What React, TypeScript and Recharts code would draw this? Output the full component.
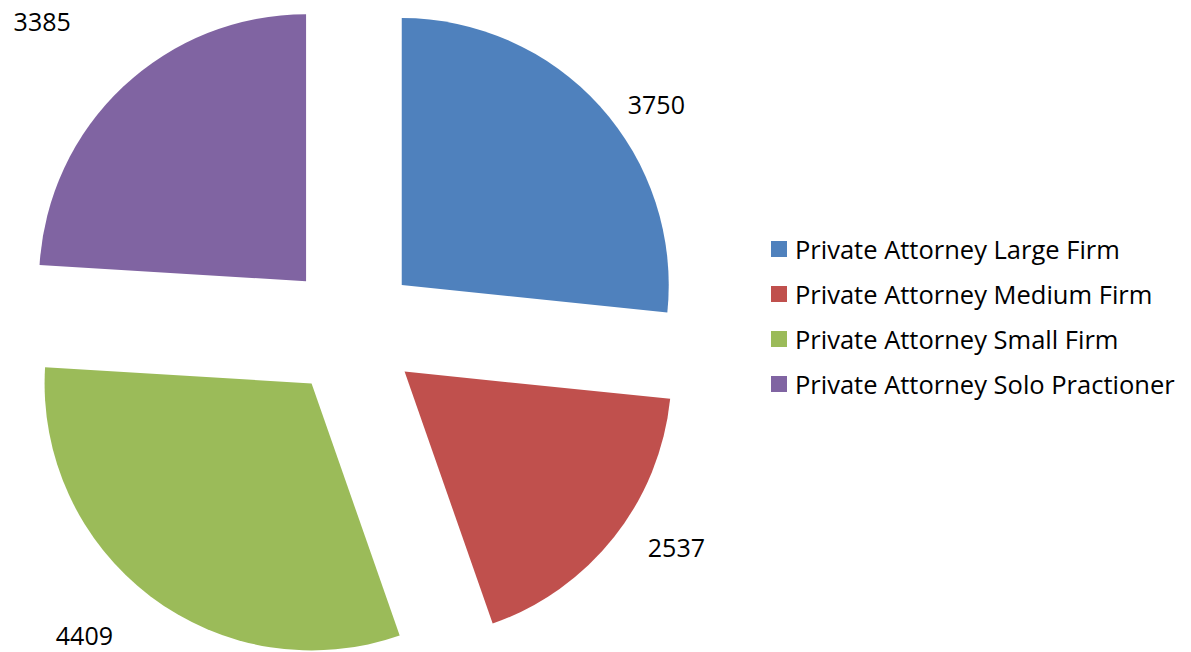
import { PieChart, Pie, Cell, Legend, Sector } from "recharts";

const categories = [
  "Private Attorney Large Firm",
  "Private Attorney Medium Firm",
  "Private Attorney Small Firm",
  "Private Attorney Solo Practioner",
];
const counts = [3750, 2537, 4409, 3385];
const colors = ["#4F81BD", "#C0504D", "#9BBB59", "#8064A2"];

const data = categories.map((name, i) => ({ name, value: counts[i] }));

const RAD = Math.PI / 180;
const EXPLODE = 67;
const LABEL_GAP = 45;
// hand-tuned offsets so labels land where Excel's "best fit" put them
const LABEL_NUDGE = [
  [23, 28],
  [27, -18],
  [-39, 3],
  [-50, -33],
];
const FONT = "'Open Sans', Lato, sans-serif";

function shift(midAngle: number) {
  return [EXPLODE * Math.cos(-midAngle * RAD), EXPLODE * Math.sin(-midAngle * RAD)];
}

function ExplodedSlice(props: any) {
  const [dx, dy] = shift(props.midAngle);
  return <Sector {...props} cx={props.cx + dx} cy={props.cy + dy} />;
}

function renderLabel({ cx, cy, midAngle, outerRadius, index, value }: any) {
  const [dx, dy] = shift(midAngle);
  const r = outerRadius + LABEL_GAP;
  const x = cx + dx + r * Math.cos(-midAngle * RAD) + LABEL_NUDGE[index][0];
  const y = cy + dy + r * Math.sin(-midAngle * RAD) + LABEL_NUDGE[index][1];
  return (
    <text
      x={x}
      y={y}
      textAnchor="middle"
      dominantBaseline="central"
      fill="#000"
      fontSize={25}
      fontFamily={FONT}
    >
      {value}
    </text>
  );
}

function LegendBox({ payload }: any) {
  return (
    <div style={{ fontFamily: FONT, fontSize: 25.5, color: "#000", whiteSpace: "nowrap" }}>
      {(payload || []).map((entry: any) => (
        <div
          key={entry.value}
          style={{ display: "flex", alignItems: "center", height: 45 }}
        >
          <span
            style={{
              display: "inline-block",
              width: 16,
              height: 16,
              background: entry.color,
              marginRight: 8,
              flexShrink: 0,
            }}
          />
          <span>{entry.value}</span>
        </div>
      ))}
    </div>
  );
}

export default function App() {
  return (
    <div style={{ position: "absolute", left: 0, top: 0, width: 1191, height: 652, background: "#fff" }}>
      <PieChart width={1191} height={652}>
        <Pie
          data={data}
          dataKey="value"
          nameKey="name"
          cx={347}
          cy={325}
          outerRadius={267}
          startAngle={90}
          endAngle={-270}
          stroke="none"
          shape={ExplodedSlice}
          activeShape={ExplodedSlice}
          inactiveShape={ExplodedSlice}
          label={renderLabel}
          labelLine={false}
          isAnimationActive={false}
        >
          {data.map((d, i) => (
            <Cell key={d.name} fill={colors[i]} />
          ))}
        </Pie>
        <Legend
          layout="vertical"
          content={<LegendBox />}
          wrapperStyle={{ left: 771, top: 226, width: 420, right: "auto", bottom: "auto" }}
        />
      </PieChart>
    </div>
  );
}
